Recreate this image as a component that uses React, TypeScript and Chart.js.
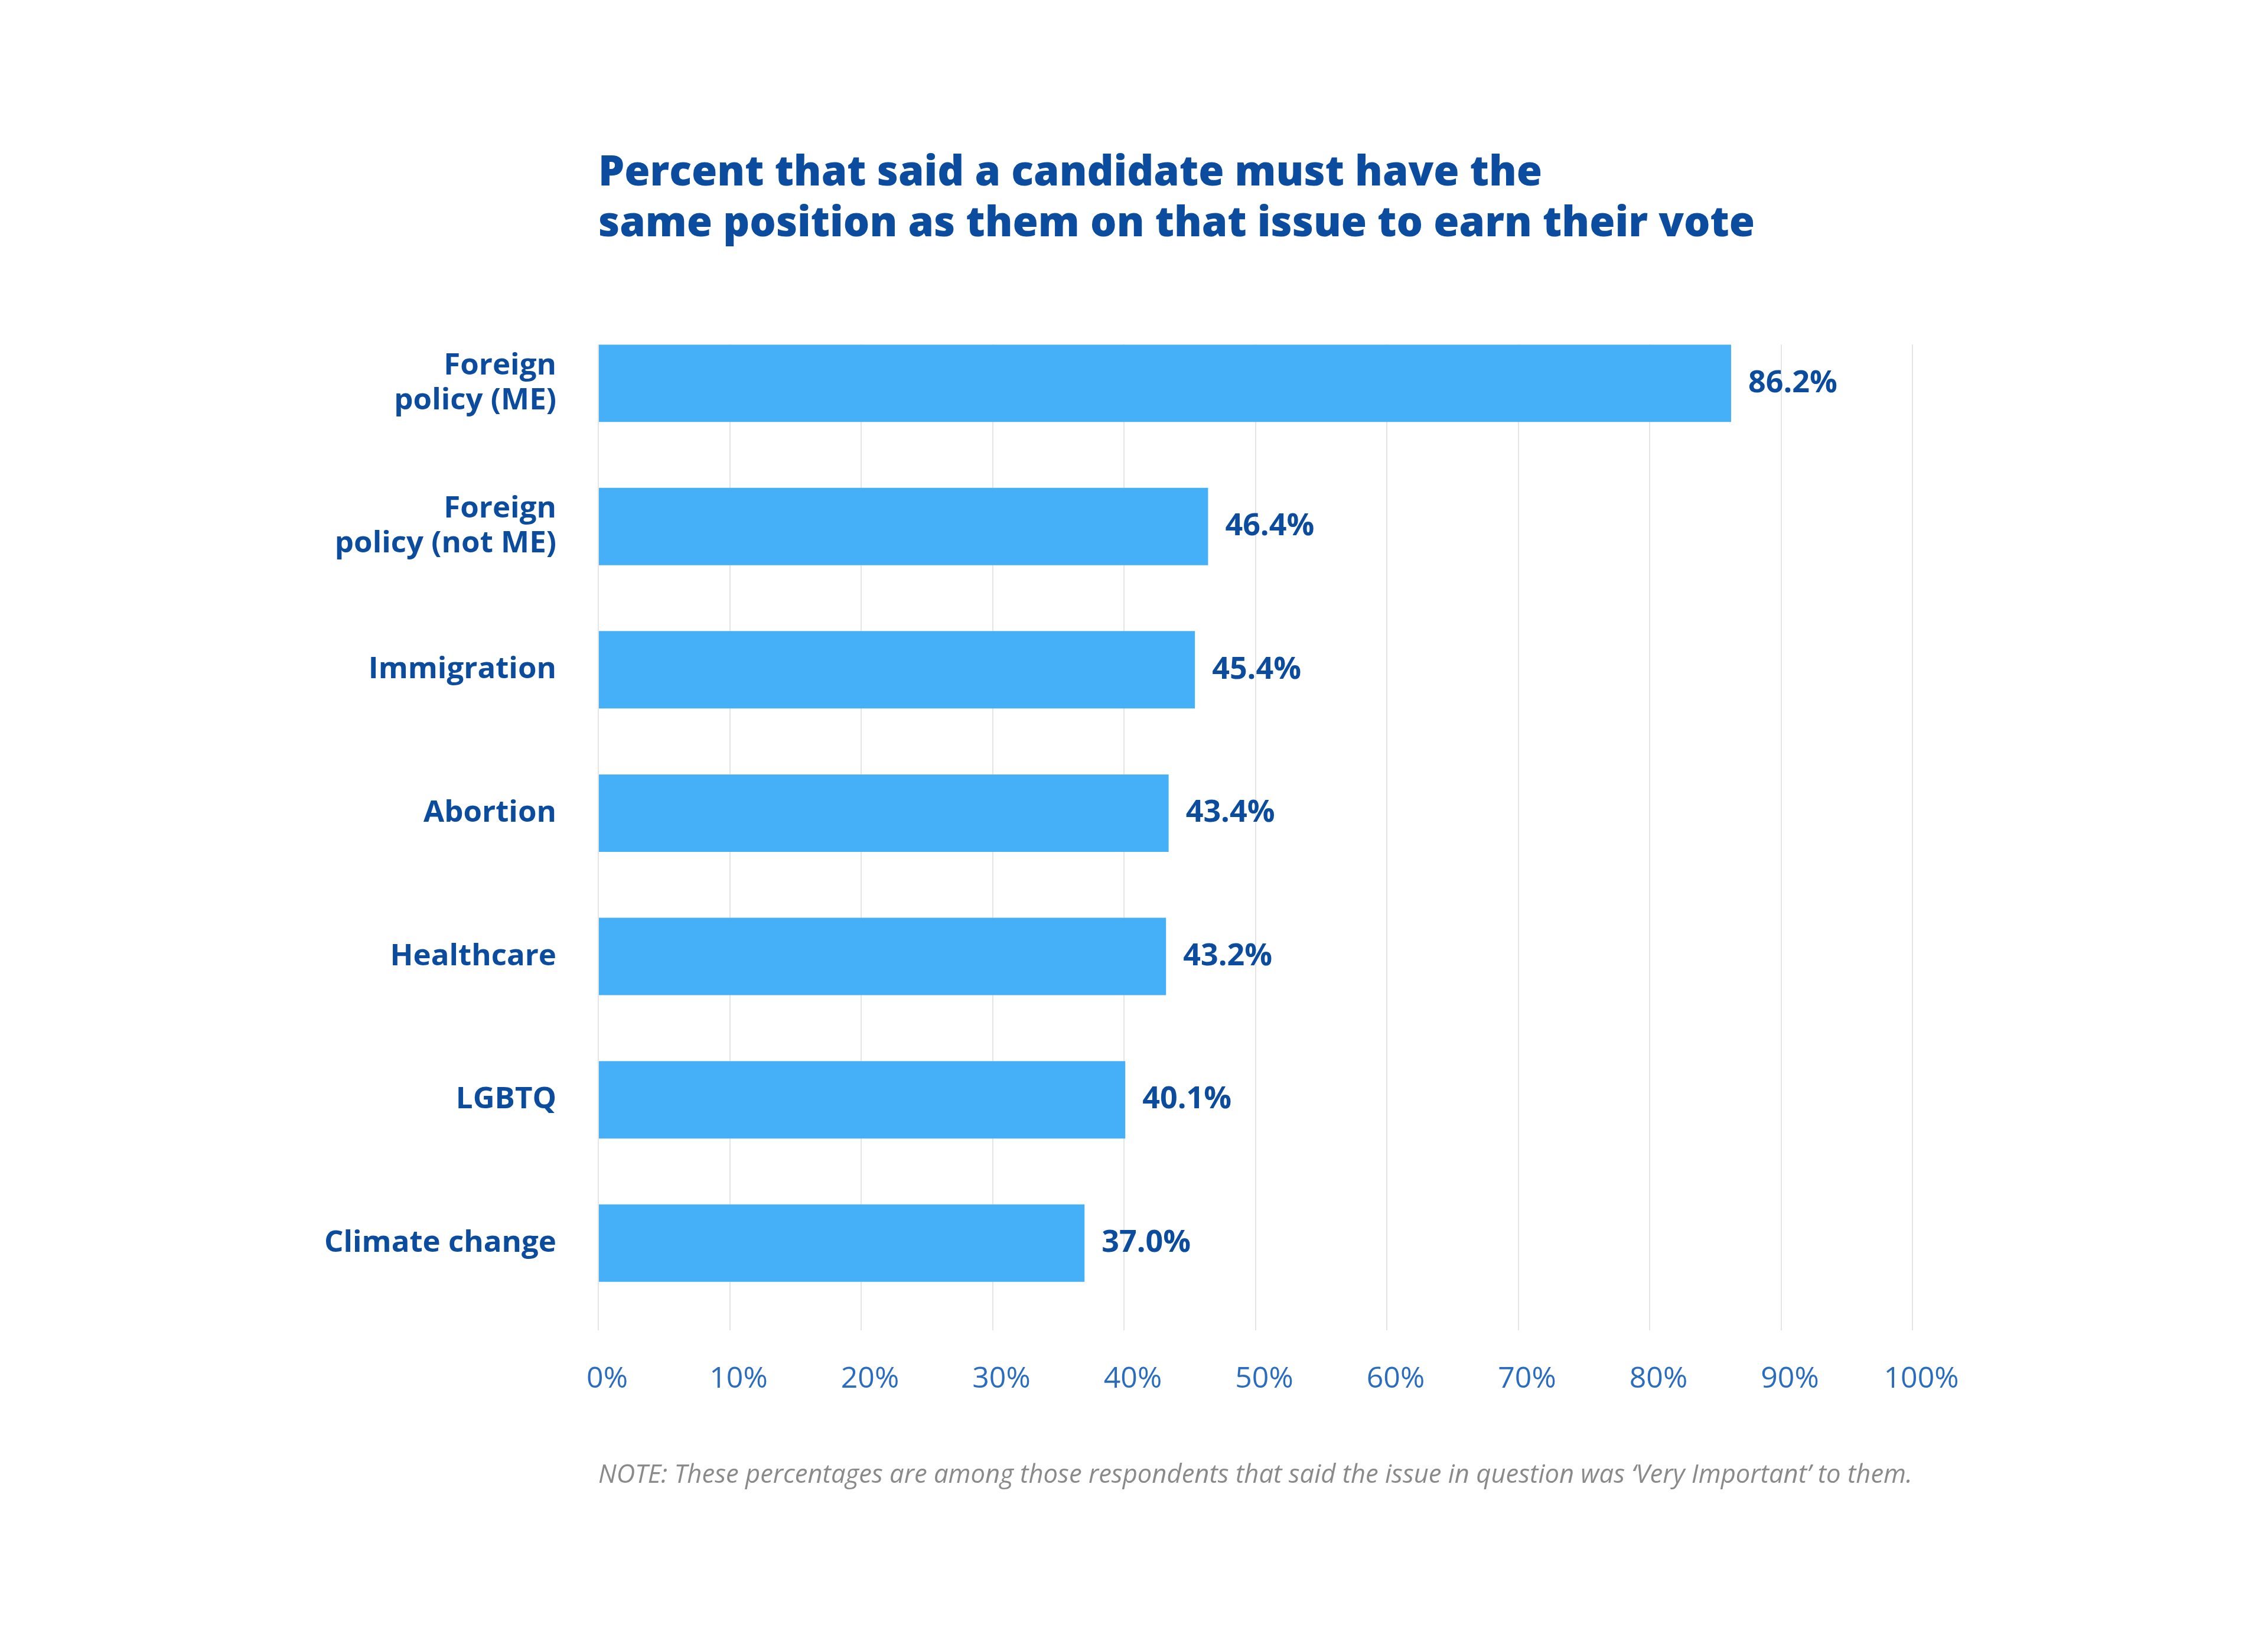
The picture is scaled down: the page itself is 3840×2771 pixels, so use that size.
import React, { useEffect, useRef } from 'react';
import { Chart, registerables } from 'chart.js';

Chart.register(...registerables);

// ---- data ----
const categories: (string | string[])[] = [
  ['Foreign', 'policy (ME)'],
  ['Foreign', 'policy (not ME)'],
  'Immigration',
  'Abortion',
  'Healthcare',
  'LGBTQ',
  'Climate change',
];
const values: number[] = [86.2, 46.4, 45.4, 43.4, 43.2, 40.1, 37.0];
const positions: number[] = [0, 1, 2, 3, 4, 5, 6];
const titleLines: string[] = [
  'Percent that said a candidate must have the',
  'same position as them on that issue to earn their vote',
];
const noteText =
  'NOTE: These percentages are among those respondents that said the issue in question was \u2018Very Important\u2019 to them.';

const FONT = '"Open Sans", Lato, sans-serif';
const DARK = '#0b4c9e';
const TICK = '#2a6cc0';
const BAR = '#45aff8';

const valueLabelPlugin = {
  id: 'valueLabels',
  afterDraw(chart: any) {
    const ctx = chart.ctx;
    const meta = chart.getDatasetMeta(0);
    ctx.save();
    ctx.font = `bold 52px ${FONT}`;
    ctx.fillStyle = DARK;
    ctx.textAlign = 'left';
    ctx.textBaseline = 'middle';
    meta.data.forEach((bar: any, i: number) => {
      ctx.fillText(values[i].toFixed(1) + '%', bar.x + 29, bar.y);
    });
    ctx.restore();
  },
};

export default function App() {
  const ref = useRef<HTMLCanvasElement | null>(null);

  useEffect(() => {
    if (!ref.current) return;
    const chart = new Chart(ref.current, {
      type: 'bar',
      data: {
        datasets: [
          {
            data: values.map((v, i) => ({ x: v, y: positions[i] })),
            backgroundColor: BAR,
            borderWidth: 0,
            categoryPercentage: 1,
            barPercentage: 0.54,
          },
        ],
      },
      options: {
        indexAxis: 'y',
        animation: false,
        responsive: false,
        devicePixelRatio: 1,
        layout: { padding: { left: 0, right: 602, top: 0, bottom: 0 } },
        plugins: {
          legend: { display: false },
          tooltip: { enabled: false },
          title: {
            display: true,
            text: titleLines,
            align: 'start',
            fullSize: false,
            color: DARK,
            font: { family: FONT, size: 70, weight: '800', lineHeight: 1.23 },
            padding: { top: 251, bottom: 160 },
          },
          subtitle: {
            display: true,
            position: 'bottom',
            text: noteText,
            align: 'start',
            fullSize: false,
            color: '#8a8a8a',
            font: { family: FONT, size: 44, style: 'italic', weight: 'normal', lineHeight: 1.2 },
            padding: { top: 53, bottom: 247 },
          },
        },
        scales: {
          x: {
            type: 'linear',
            position: 'bottom',
            min: 0,
            max: 100,
            z: 1,
            ticks: {
              stepSize: 10,
              callback: (v: any) => v + '%',
              color: TICK,
              font: { family: FONT, size: 50, weight: 'normal', lineHeight: 1.2 },
              padding: 53,
              labelOffset: 15,
            },
            grid: { color: 'rgba(0,0,0,0.1)', lineWidth: 2, drawTicks: false },
            border: { display: false },
          },
          y: {
            type: 'linear',
            offset: false,
            min: -0.27,
            max: 6.61,
            reverse: true,
            afterFit: (s: any) => {
              s.width = 1013;
            },
            ticks: {
              stepSize: 1,
              includeBounds: false,
              autoSkip: false,
              callback: (v: any) => {
                const r = Math.round(v);
                return Math.abs(v - r) < 1e-6 && r >= 0 && r < categories.length ? (categories[r] as any) : '';
              },
              color: DARK,
              font: { family: FONT, size: 51, weight: 'bold', lineHeight: 1.15 },
              padding: 71,
            },
            grid: { display: false, drawTicks: false },
            border: { display: false },
          },
        },
      } as any,
      plugins: [valueLabelPlugin],
    });
    return () => chart.destroy();
  }, []);

  return (
    <div style={{ position: 'absolute', left: 0, top: 0, width: 3840, height: 2771, background: '#fff' }}>
      <canvas ref={ref} width={3840} height={2771} style={{ width: 3840, height: 2771, display: 'block' }} />
    </div>
  );
}
